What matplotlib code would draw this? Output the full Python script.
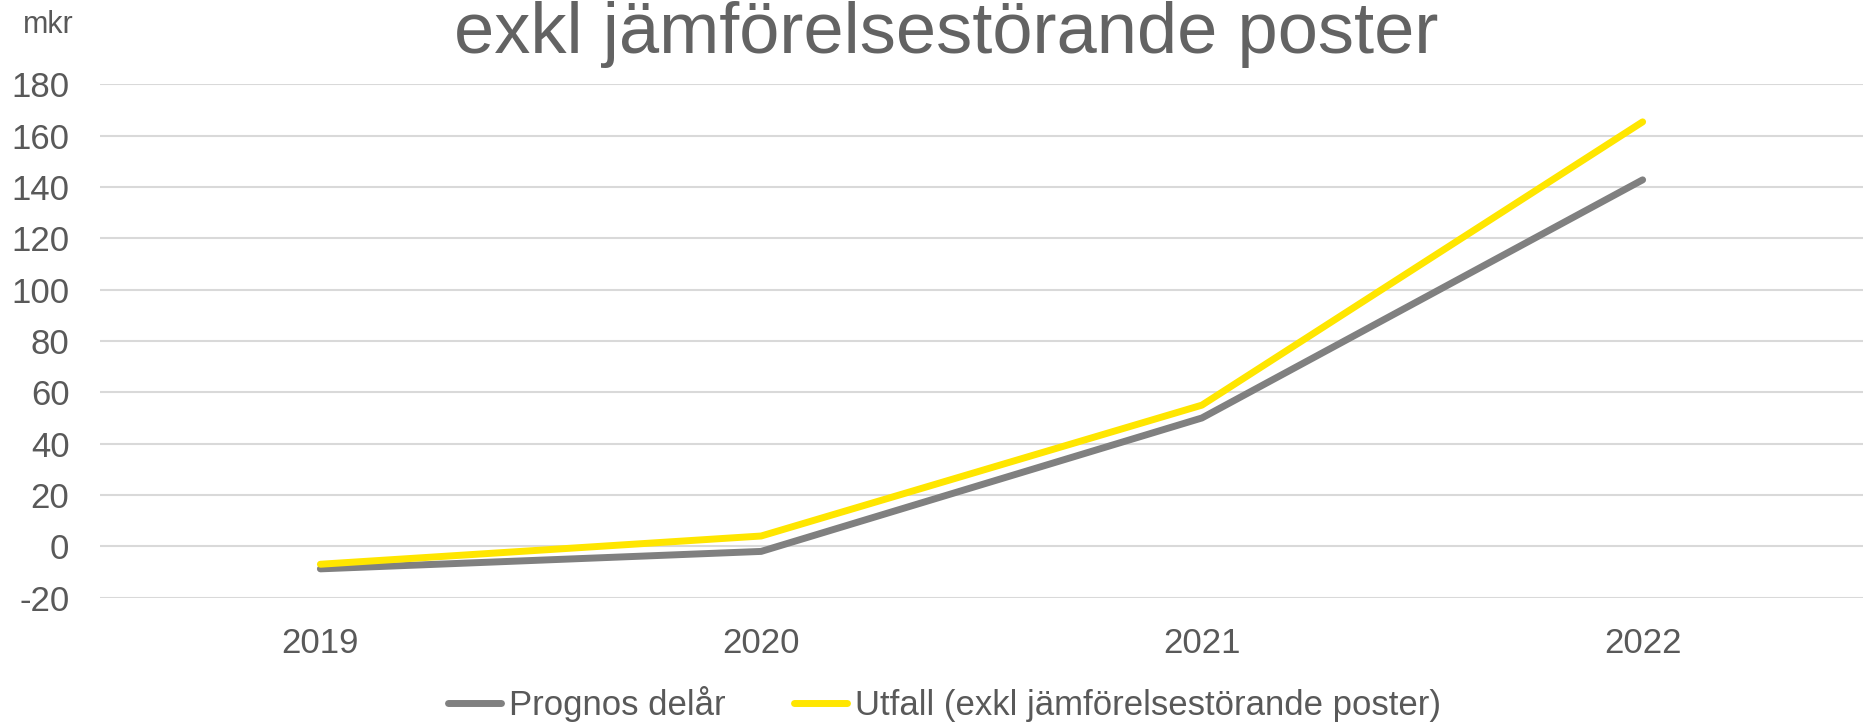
import matplotlib
matplotlib.use("Agg")
import matplotlib.pyplot as plt

years = ["2019", "2020", "2021", "2022"]
prognos = [-8.8, -2.0, 50.0, 142.8]
utfall = [-7.0, 4.0, 55.0, 165.4]
series_names = ["Prognos delår", "Utfall (exkl jämförelsestörande poster)"]
title = "exkl jämförelsestörande poster"
y_ticks = [-20, 0, 20, 40, 60, 80, 100, 120, 140, 160, 180]

plt.rcParams['font.family'] = ['Liberation Sans', 'DejaVu Sans']
txt = '#595959'

W, H = 1863, 723
fig = plt.figure(figsize=(W/100, H/100), dpi=100)
ax = fig.add_axes([100/W, 1-597.6/H, 1-100/W, (597.6-84.4)/H])

x = list(range(len(years)))
ax.plot(x, prognos, color='#808080', lw=5, solid_capstyle='round', solid_joinstyle='round', label=series_names[0], zorder=3)
ax.plot(x, utfall, color='#FFE600', lw=5, solid_capstyle='round', solid_joinstyle='round', label=series_names[1], zorder=4)

ax.set_xlim(-0.5, len(years)-0.5)
ax.set_ylim(-20, 180)
ax.set_yticks(y_ticks)
ax.set_yticklabels([str(v) for v in y_ticks])
ax.set_xticks(x)
ax.set_xticklabels(years)
ax.grid(axis='y', color='#d9d9d9', lw=1.5)
ax.set_axisbelow(True)
for s in ax.spines.values():
    s.set_visible(False)
ax.tick_params(axis='y', length=0, pad=22, labelsize=25, labelcolor=txt)
ax.tick_params(axis='x', length=0, pad=21, labelsize=25, labelcolor=txt)

fig.text(74/W, 1-33/H, "mkr", ha='right', va='baseline', fontsize=22, color=txt)
fig.text(946.5/W, 1-53/H, title, ha='center', va='baseline', fontsize=52, color='#636363')

leg = fig.legend(loc='center', bbox_to_anchor=(944.5/W, 1-704/H), ncol=2, frameon=False,
                 fontsize=25, handlelength=1.52, handletextpad=0.24, columnspacing=1.96, borderpad=0)
for t in leg.get_texts():
    t.set_color(txt)

fig.savefig("out.png", dpi=100)
